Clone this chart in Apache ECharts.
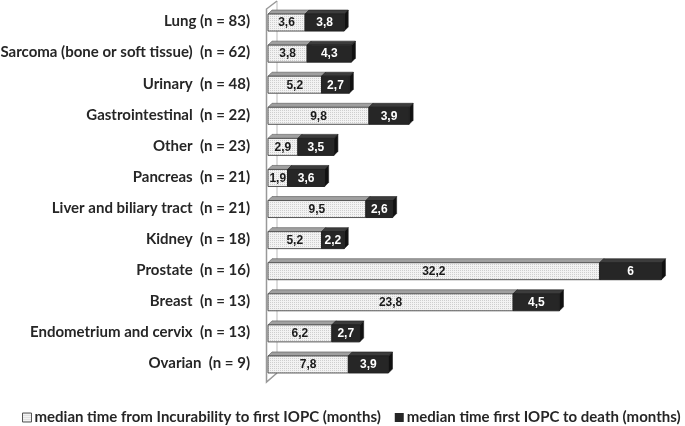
<!DOCTYPE html>
<html><head><meta charset="utf-8">
<script src="https://cdn.jsdelivr.net/npm/echarts@6/dist/echarts.min.js"></script>
<style>html,body{margin:0;padding:0;background:#fff}#c{width:685px;height:426px}</style>
</head><body><div id="c"></div>
<script>
const categories = ["Lung (n = 83)", "Sarcoma (bone or soft tissue)  (n = 62)", "Urinary  (n = 48)", "Gastrointestinal  (n = 22)", "Other  (n = 23)", "Pancreas  (n = 21)", "Liver and biliary tract  (n = 21)", "Kidney  (n = 18)", "Prostate  (n = 16)", "Breast  (n = 13)", "Endometrium and cervix  (n = 13)", "Ovarian  (n = 9)"];
const incurabilityToIOPC = [3.6, 3.8, 5.2, 9.8, 2.9, 1.9, 9.5, 5.2, 32.2, 23.8, 6.2, 7.8];
const iopcToDeath = [3.8, 4.3, 2.7, 3.9, 3.5, 3.6, 2.6, 2.2, 6, 4.5, 2.7, 3.9];
const seriesNames = ["median time from Incurability to first IOPC (months)", "median time first IOPC to death (months)"];

// dotted pattern
const pc = document.createElement('canvas');
pc.width = 2; pc.height = 2;
const pctx = pc.getContext('2d');
pctx.fillStyle = '#f3f3f3'; pctx.fillRect(0,0,2,2);
pctx.fillStyle = '#cfcfcf'; pctx.fillRect(0,0,1,1);
const pattern = {image: pc, repeat: 'repeat'};

const fmt = v => String(v).replace('.', ',');

function makeRender(style) {
  return function(params, api) {
    const s = api.coord([api.value(0), api.value(2)]);
    const e = api.coord([api.value(1), api.value(2)]);
    const h = 17, d = 4;
    const x0 = s[0], x1 = e[0], y0 = s[1] - h / 2 + 1;
    return {
      type: 'group',
      children: [
        {type: 'polygon', shape: {points: [[x0, y0], [x0 + d, y0 - d], [x1 + d, y0 - d], [x1, y0]]},
          style: {fill: style.top, stroke: style.edge, lineWidth: 0.6}},
        {type: 'polygon', shape: {points: [[x1, y0], [x1 + d, y0 - d], [x1 + d, y0 + h - d], [x1, y0 + h]]},
          style: {fill: style.side, stroke: style.edge, lineWidth: 0.6}},
        {type: 'rect', shape: {x: x0, y: y0, width: x1 - x0, height: h},
          style: {fill: style.front, stroke: style.edge, lineWidth: 1}},
        {type: 'text', x: (x0 + x1) / 2, y: y0 + h / 2 + 0.5,
          style: {text: fmt(api.value(3)), fill: style.text, font: 'bold 12px "Liberation Sans", Arial, sans-serif',
            align: 'center', verticalAlign: 'middle'}}
      ]
    };
  };
}

const data1 = categories.map((c, i) => [0, incurabilityToIOPC[i], i, incurabilityToIOPC[i]]);
const data2 = categories.map((c, i) => [incurabilityToIOPC[i], incurabilityToIOPC[i] + iopcToDeath[i], i, iopcToDeath[i]]);

const chart = echarts.init(document.getElementById('c'), null, {renderer: 'canvas'});
chart.setOption({
  animation: false,
  backgroundColor: '#fff',
  grid: {left: 268, right: 5, top: 6, bottom: 47, containLabel: false, outerBoundsMode: 'none'},
  xAxis: {type: 'value', min: 0, max: 40, show: false},
  yAxis: {type: 'category', data: categories, inverse: true,
    axisLine: {show: false}, axisTick: {show: false}, splitLine: {show: false},
    axisLabel: {margin: 18, color: '#262626', fontSize: 15, fontWeight: 'bold', fontFamily: 'Lato, "Open Sans", sans-serif'}},
  legend: {left: 22, top: 410, width: 663, padding: 0, itemWidth: 9, itemHeight: 9, itemGap: 14, icon: 'rect',
    textStyle: {fontSize: 15, fontWeight: 'bold', color: '#262626', fontFamily: 'Lato, "Open Sans", sans-serif', padding: [0,0,0,-2]},
    data: [
      {name: seriesNames[0], itemStyle: {color: pattern, borderColor: '#555', borderWidth: 1}},
      {name: seriesNames[1], itemStyle: {color: '#262626'}}
    ]},
  graphic: [
    {type: 'polyline', shape: {points: [[277, 1], [277, 373]]}, style: {stroke: '#bbb', lineWidth: 1}, z: 0},
    {type: 'polyline', shape: {points: [[277, 1], [266.5, 9], [266.5, 382], [277, 373]]}, style: {stroke: '#999', lineWidth: 1.5, fill: null}, z: 0}
  ],
  series: [
    {name: seriesNames[0], type: 'custom', renderItem: makeRender({front: pattern, top: '#a0a0a0', side: '#888', edge: '#555', text: '#1a1a1a'}),
      encode: {x: [0, 1], y: 2}, data: data1, itemStyle: {color: pattern}, z: 2},
    {name: seriesNames[1], type: 'custom', renderItem: makeRender({front: '#262626', top: '#3c3c3c', side: '#111', edge: '#222', text: '#ffffff'}),
      encode: {x: [0, 1], y: 2}, data: data2, itemStyle: {color: '#262626'}, z: 3}
  ]
});
</script></body></html>
